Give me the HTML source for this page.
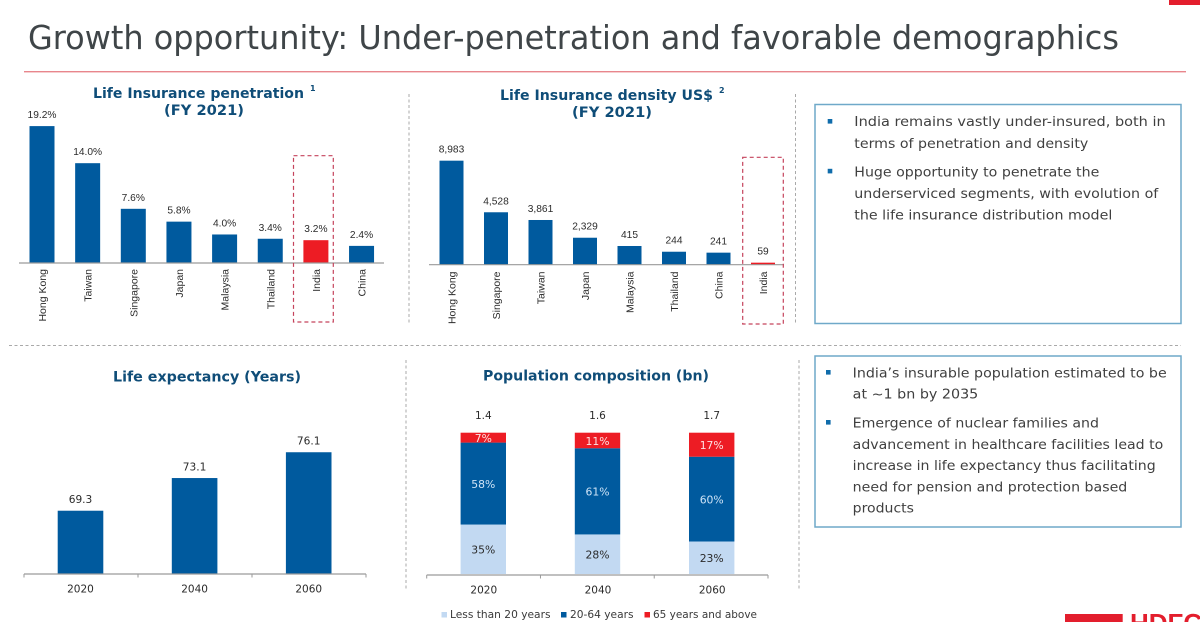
<!DOCTYPE html>
<html lang="en">
<head>
<meta charset="utf-8">
<title>Growth opportunity: Under-penetration and favorable demographics</title>
<style>
  html, body { margin: 0; padding: 0; background: #fff; }
  body { width: 1200px; height: 622px; overflow: hidden; }
  svg { display: block; }
  .sans { font-family: "DejaVu Sans", sans-serif; }
  .arial { font-family: "Liberation Sans", sans-serif; }
  .chart-title { font-family: "DejaVu Sans", sans-serif; font-weight: bold; font-size: 14px; fill: #0f4d78; }
  .body-text { font-family: "DejaVu Sans", sans-serif; font-size: 13.5px; fill: #3f3f3f; }
  .sep { stroke: #a9a9a9; stroke-width: 1; stroke-dasharray: 3 2.5; fill: none; }
  .hl { stroke: #c5435c; stroke-width: 1.2; stroke-dasharray: 4 3; fill: none; }
  .callout { fill: none; stroke: #6fa9c9; stroke-width: 1.5; }
</style>
</head>
<body>
<svg id="slide" xmlns="http://www.w3.org/2000/svg" width="1200" height="622" viewBox="0 0 1200 622">
  <rect x="1169" y="0" width="31" height="5" fill="#e31e2d"/>
  <text class="sans" x="28" y="49" font-size="33" fill="#3f4548" textLength="1091" lengthAdjust="spacingAndGlyphs">Growth opportunity: Under-penetration and favorable demographics</text>
  <rect x="24" y="71" width="1162" height="1.4" fill="#e8868c"/>

  <line class="sep" x1="409" y1="94" x2="409" y2="323"/>
  <line class="sep" x1="795.5" y1="94" x2="795.5" y2="323"/>
  <line class="sep" x1="9" y1="345.5" x2="1181" y2="345.5"/>
  <line class="sep" x1="406" y1="360" x2="406" y2="589"/>
  <line class="sep" x1="799" y1="360" x2="799" y2="589"/>

  <g>
    <text class="chart-title" x="93" y="98" textLength="211" lengthAdjust="spacingAndGlyphs">Life Insurance penetration</text>
    <text class="chart-title" x="164" y="115" textLength="80" lengthAdjust="spacingAndGlyphs">(FY 2021)</text>
    <text class="chart-title" x="310" y="91" style="font-size:8px">1</text>
  </g>
  <g>
    <text class="chart-title" x="500" y="100" textLength="213" lengthAdjust="spacingAndGlyphs">Life Insurance density US$</text>
    <text class="chart-title" x="572" y="117" textLength="80" lengthAdjust="spacingAndGlyphs">(FY 2021)</text>
    <text class="chart-title" x="719" y="93" style="font-size:8px">2</text>
  </g>
  <text class="chart-title" x="113" y="381.5" textLength="188" lengthAdjust="spacingAndGlyphs">Life expectancy (Years)</text>
  <text class="chart-title" x="483" y="380.5" textLength="226" lengthAdjust="spacingAndGlyphs">Population composition (bn)</text>

  <g id="penetration-chart"></g>
  <g id="density-chart"></g>
  <g id="life-chart"></g>
  <g id="population-chart"></g>

  <rect class="hl" x="293.5" y="155.7" width="39.8" height="166.3"/>
  <rect class="hl" x="742.7" y="157.3" width="40.6" height="166.7"/>

  <g>
    <g>
      <rect x="441.5" y="612" width="5.5" height="5.5" fill="#c2d9f2"/>
      <text class="sans" x="450" y="618" font-size="10.5" fill="#3a3a3a" textLength="100.5" lengthAdjust="spacingAndGlyphs">Less than 20 years</text>
    </g>
    <g>
      <rect x="561" y="612" width="5.5" height="5.5" fill="#005a9e"/>
      <text class="sans" x="570" y="618" font-size="10.5" fill="#3a3a3a" textLength="63.5" lengthAdjust="spacingAndGlyphs">20-64 years</text>
    </g>
    <g>
      <rect x="644.5" y="612" width="5.5" height="5.5" fill="#ed1c24"/>
      <text class="sans" x="653" y="618" font-size="10.5" fill="#3a3a3a" textLength="104" lengthAdjust="spacingAndGlyphs">65 years and above</text>
    </g>
  </g>

  <g>
    <rect class="callout" x="815" y="104.5" width="366" height="219"/>
    <rect x="827.7" y="119" width="4.6" height="4.6" fill="#0f6cab"/>
    <text class="body-text" x="854.3" y="126" textLength="311.4" lengthAdjust="spacingAndGlyphs">India remains vastly under-insured, both in</text>
    <text class="body-text" x="854.3" y="148" textLength="234" lengthAdjust="spacingAndGlyphs">terms of penetration and density</text>
    <rect x="827.7" y="168.8" width="4.6" height="4.6" fill="#0f6cab"/>
    <text class="body-text" x="854.3" y="176.5" textLength="245" lengthAdjust="spacingAndGlyphs">Huge opportunity to penetrate the</text>
    <text class="body-text" x="854.3" y="198" textLength="304" lengthAdjust="spacingAndGlyphs">underserviced segments, with evolution of</text>
    <text class="body-text" x="854.3" y="219.3" textLength="258" lengthAdjust="spacingAndGlyphs">the life insurance distribution model</text>
  </g>

  <g>
    <rect class="callout" x="815" y="356" width="366" height="171"/>
    <rect x="826" y="370" width="4.6" height="4.6" fill="#0f6cab"/>
    <text class="body-text" x="852.7" y="377.3" textLength="314" lengthAdjust="spacingAndGlyphs">India’s insurable population estimated to be</text>
    <text class="body-text" x="852.7" y="398.3" textLength="125.6" lengthAdjust="spacingAndGlyphs">at ~1 bn by 2035</text>
    <rect x="826" y="420" width="4.6" height="4.6" fill="#0f6cab"/>
    <text class="body-text" x="852.7" y="427.3" textLength="246.3" lengthAdjust="spacingAndGlyphs">Emergence of nuclear families and</text>
    <text class="body-text" x="852.7" y="449" textLength="310.6" lengthAdjust="spacingAndGlyphs">advancement in healthcare facilities lead to</text>
    <text class="body-text" x="852.7" y="470" textLength="303" lengthAdjust="spacingAndGlyphs">increase in life expectancy thus facilitating</text>
    <text class="body-text" x="852.7" y="491.7" textLength="274.6" lengthAdjust="spacingAndGlyphs">need for pension and protection based</text>
    <text class="body-text" x="852.7" y="512.3" textLength="61.3" lengthAdjust="spacingAndGlyphs">products</text>
  </g>

  <g>
    <rect x="1065" y="614" width="57.7" height="8" fill="#e31e2d"/>
    <text class="arial" x="1130" y="632" font-size="26" font-weight="bold" fill="#e31e2d">HDFC</text>
  </g>
</svg>

<script>
// Life insurance penetration (FY 2021), percent
const penetrationCategories = ["Hong Kong", "Taiwan", "Singapore", "Japan", "Malaysia", "Thailand", "India", "China"];
const penetrationValues = [19.2, 14.0, 7.6, 5.8, 4.0, 3.4, 3.2, 2.4];

// Life insurance density (FY 2021), US$.
// The source draws its small bars out of proportion to their printed figures,
// so densityBarValues holds what the bar heights read as on the chart's scale.
const densityCategories = ["Hong Kong", "Singapore", "Taiwan", "Japan", "Malaysia", "Thailand", "China", "India"];
const densityPrinted = ["8,983", "4,528", "3,861", "2,329", "415", "244", "241", "59"];
const densityBarValues = [8983, 4528, 3861, 2329, 1615, 1120, 1040, 175];

// Life expectancy, years
const lifeYears = ["2020", "2040", "2060"];
const lifeValues = [69.3, 73.1, 76.1];

// Population composition, percent of total; totals in bn
const popYears = ["2020", "2040", "2060"];
const popTotals = ["1.4", "1.6", "1.7"];
const popUnder20 = [35, 28, 23];
const pop20to64 = [58, 61, 60];
const pop65plus = [7, 11, 17];

const SVG_NS = "http://www.w3.org/2000/svg";
const BLUE = "#005a9e", RED = "#ed1c24", PALE = "#c2d9f2", AXIS = "#9a9a9a", INK = "#2b2b2b";

function mk(parent, tag, attrs, text) {
  const el = document.createElementNS(SVG_NS, tag);
  for (const k in attrs) el.setAttribute(k, attrs[k]);
  if (text !== undefined) el.textContent = text;
  parent.appendChild(el);
  return el;
}

function drawAxis(parent, x0, x1, y, ticks) {
  const axis = mk(parent, "line", { x1: x0, x2: x1, y1: y, y2: y, stroke: AXIS, "stroke-width": 1.2 });
  
  
  for (let i = 0; i <= ticks; i++) {
    if (ticks === 0) break;
    const tx = x0 + (x1 - x0) * i / ticks;
    const tick = mk(parent, "line", { x1: tx, x2: tx, y1: y, y2: y + 3.5, stroke: AXIS, "stroke-width": 1 });
    
    
  }
}

/* ---------- penetration ---------- */
(function () {
  const g = document.getElementById("penetration-chart");
  const base = 263;
  const xPen = i => 42 + i * 45.65;
  const yPen = v => base - v * 7.13;
  penetrationValues.forEach((v, i) => {
    const bar = mk(g, "rect", { x: xPen(i) - 12.5, y: yPen(v), width: 25, height: base - yPen(v), fill: penetrationCategories[i] === "India" ? RED : BLUE });
    
    
    const val = mk(g, "text", { x: xPen(i), y: yPen(v) - 8, "text-anchor": "middle", "font-size": 10.2, fill: INK, class: "arial" }, v.toFixed(1) + "%");
    
    
    const cat = mk(g, "text", { transform: "translate(" + (xPen(i) + 4) + ",269) rotate(-90)", "text-anchor": "end", "font-size": 10.5, fill: INK, class: "arial" }, penetrationCategories[i]);
    
    
  });
  drawAxis(g, 19, 384, base, 0);
})();

/* ---------- density ---------- */
(function () {
  const g = document.getElementById("density-chart");
  const base = 264.7;
  const xDen = i => 451.5 + i * 44.5;
  const yDen = v => base - v * 0.01158;
  densityBarValues.forEach((v, i) => {
    const bar = mk(g, "rect", { x: xDen(i) - 12, y: yDen(v), width: 24, height: base - yDen(v), fill: densityCategories[i] === "India" ? RED : BLUE });
    
    
    const val = mk(g, "text", { x: xDen(i), y: yDen(v) - 8, "text-anchor": "middle", "font-size": 10.2, fill: INK, class: "arial" }, densityPrinted[i]);
    
    
    const cat = mk(g, "text", { transform: "translate(" + (xDen(i) + 4) + ",271.5) rotate(-90)", "text-anchor": "end", "font-size": 10.5, fill: INK, class: "arial" }, densityCategories[i]);
    
    
  });
  drawAxis(g, 429, 784, base, 0);
})();

/* ---------- life expectancy ---------- */
(function () {
  const g = document.getElementById("life-chart");
  const base = 573.5;
  const xLife = i => 80.5 + i * 114.1;
  const yLife = v => base - (v - 62) * 8.6;
  lifeValues.forEach((v, i) => {
    const bar = mk(g, "rect", { x: xLife(i) - 22.8, y: yLife(v), width: 45.6, height: base - yLife(v), fill: BLUE });
    
    
    const val = mk(g, "text", { x: xLife(i), y: yLife(v) - 7.5, "text-anchor": "middle", "font-size": 10.6, fill: INK, class: "sans" }, v.toFixed(1));
    
    
    const yr = mk(g, "text", { x: xLife(i), y: 592.5, "text-anchor": "middle", "font-size": 10.5, fill: INK, class: "sans" }, lifeYears[i]);
    
    
  });
  drawAxis(g, 24, 366, base + 0.5, 3);
})();

/* ---------- population ---------- */
(function () {
  const g = document.getElementById("population-chart");
  const base = 574;
  const xPop = i => 483.3 + i * 114.2;
  const hPop = v => v * 1.413;
  popYears.forEach((year, i) => {
    const parts = [
      { v: popUnder20[i], fill: PALE, ink: INK },
      { v: pop20to64[i], fill: BLUE, ink: "#cfe4f7" },
      { v: pop65plus[i], fill: RED, ink: "#fde3e3" }
    ];
    let y = base;
    parts.forEach(p => {
      const h = hPop(p.v);
      y -= h;
      const seg = mk(g, "rect", { x: xPop(i) - 22.7, y: y, width: 45.4, height: h, fill: p.fill });
      
      
      const lbl = mk(g, "text", { x: xPop(i), y: y + h / 2 + 4.3, "text-anchor": "middle", "font-size": 10.8, fill: p.ink, class: "sans" }, p.v + "%");
      
      
    });
    const total = mk(g, "text", { x: xPop(i), y: y - 13.5, "text-anchor": "middle", "font-size": 10.5, fill: INK, class: "sans" }, popTotals[i]);
    
    
    const yr = mk(g, "text", { x: xPop(i) + 0.5, y: 593.3, "text-anchor": "middle", "font-size": 10.5, fill: INK, class: "sans" }, year);
    
    
  });
  drawAxis(g, 426.7, 768, base + 1, 3);
})();
</script>
</body>
</html>
